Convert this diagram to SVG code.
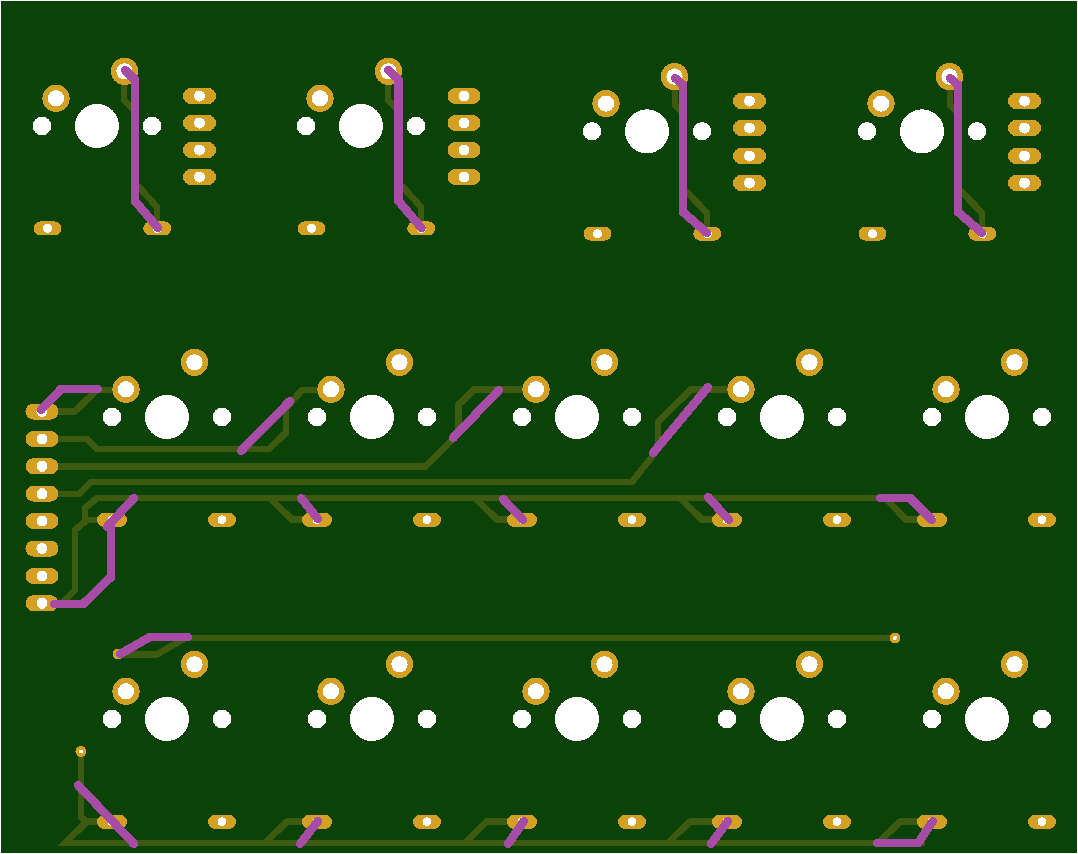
<svg xmlns="http://www.w3.org/2000/svg" width="1078" height="854" viewBox="0 0 1078 854" shape-rendering="crispEdges">
<style>
.t{fill:none;stroke:#3e5a10;stroke-width:6.600;stroke-linejoin:miter;stroke-linecap:butt}
.w{stroke-width:7}
.b{fill:none;stroke:#a64ca6;stroke-width:8.600;stroke-linejoin:miter;stroke-linecap:round}
.g{fill:#d3a023}
.h{fill:#fff}
.ring{fill:#fff;stroke:#d3a023;stroke-width:5.500}
</style>
<defs>
<g id="pad"><rect class="g" x="-14" y="-7" width="28" height="14" rx="7"/><circle class="h" r="4.500"/></g>
<g id="padw"><rect class="g" x="-15" y="-7" width="30" height="14" rx="7"/><circle class="h" r="4.500"/></g>
<g id="pad2"><rect class="g" x="-16.500" y="-8" width="33" height="16" rx="8"/><circle class="h" r="5.500"/></g>
<g id="sw"><circle class="h" r="22"/><circle class="h" cx="-55" r="9.200"/><circle class="h" cx="55" r="9.200"/><circle class="ring" cx="-41" cy="-27.700" r="10.900"/><circle class="ring" cx="27.500" cy="-54.700" r="10.900"/></g>
<g id="swb"><use href="#sw"/><use href="#padw" x="-55" y="102.800"/><use href="#pad" x="55" y="102.800"/></g>
<g id="top"><use href="#sw"/><use href="#pad" x="-49.500" y="102.400"/><use href="#pad" x="60.300" y="102.400"/></g>
<g id="rp1"><use href="#pad2" y="-30"/><use href="#pad2" y="-3"/><use href="#pad2" y="24"/><use href="#pad2" y="51"/></g>
<g id="rp2"><use href="#pad2" y="-30.300"/><use href="#pad2" y="-3.300"/><use href="#pad2" y="24.700"/><use href="#pad2" y="51.700"/></g>
<path id="ttop1" class="t" d="M124 71V100L135 111V187H139L157 207V225"/>
<path id="btop1" class="b" d="M125 70L135 80V201L158 228"/>
<path id="ttop2" class="t" d="M675 77V105L684 113V192H687L707 213V230"/>
<path id="btop2" class="b" d="M675 78L683 85V212L707 233"/>
</defs>
<rect width="1078" height="854" fill="#fff"/>
<rect x="1" y="1" width="1076" height="852" fill="#0a4208"/>
<g id="tracks-back">
<use href="#ttop1"/><use href="#ttop1" x="264"/><use href="#ttop2"/><use href="#ttop2" x="275"/>
<path class="t" d="M42 411.300H75L97 390H126"/>
<path class="t" d="M42 439H87L97 449H269L286 432.700V408L302 390H331"/>
<path class="t w" d="M42 466H426L458 434V405L474 389.500H536"/>
<path class="t" d="M42 494H79L91 482H632L658 449V422L691 389.500H741"/>
<path class="t" d="M880 498H97L85 508V520H112"/>
<path class="t" d="M87 520L75 530V590L62 603H42"/>
<path class="t" d="M270 498L292 519.500H316M475 498L497 519.500H521M680 498L702 519.500H727M885 498L906 519.500H931"/>
<path class="t" d="M894 638H185L157 654.500H118"/>
<path class="t" d="M81 751V817L87 821.700H112M87 821.700L65 843H925"/>
<path class="t" d="M265 843L287 821.700H316M465 843L486 821.700H521M668 843L690 821.700H727M878 843L900 821.700H932"/>
</g>
<g id="footprints">
<g id="sw-top-1"><use href="#top" x="97" y="126"/><use href="#rp1" x="199.500" y="126"/></g>
<g id="sw-top-2"><use href="#top" x="361" y="126"/><use href="#rp1" x="464" y="126"/></g>
<g id="sw-top-3"><use href="#top" x="647" y="131.300"/><use href="#rp2" x="749.500" y="131.300"/></g>
<g id="sw-top-4"><use href="#top" x="922" y="131.300"/><use href="#rp2" x="1024.500" y="131.300"/></g>
<use href="#swb" x="167" y="417"/><use href="#swb" x="372" y="417"/><use href="#swb" x="577" y="417"/><use href="#swb" x="782" y="417"/><use href="#swb" x="987" y="417"/>
<use href="#swb" x="167" y="719"/><use href="#swb" x="372" y="719"/><use href="#swb" x="577" y="719"/><use href="#swb" x="782" y="719"/><use href="#swb" x="987" y="719"/>
<use href="#pad2" x="42" y="411.500"/><use href="#pad2" x="42" y="439"/><use href="#pad2" x="42" y="466.300"/><use href="#pad2" x="42" y="493.700"/><use href="#pad2" x="42" y="521"/><use href="#pad2" x="42" y="548.500"/><use href="#pad2" x="42" y="576"/><use href="#pad2" x="42" y="603.300"/>
<circle class="g" cx="895" cy="638" r="5.500"/><circle class="h" cx="895" cy="638" r="2"/>
<circle class="g" cx="118" cy="654" r="5.500"/>
<circle class="g" cx="81" cy="751.500" r="5.500"/><circle class="h" cx="81" cy="751.500" r="2"/>
</g>
<g id="tracks-front">
<use href="#btop1"/><use href="#btop1" x="263.500"/><use href="#btop2"/><use href="#btop2" x="275"/>
<path class="b" d="M41 410L61 389H98"/>
<path class="b" d="M241 451L290 401"/>
<path class="b" d="M453 438L499 390"/>
<path class="b" d="M653 453L708 387"/>
<path class="b" d="M54 604H83L111 577V527"/>
<path class="b" d="M107 527L134 498"/>
<path class="b" d="M301 498L318 519M503 499L523 520M708 497L729 520"/>
<path class="b" d="M880 498H910L932 520"/>
<path class="b" d="M120 654L150 637H188"/>
<path class="b" d="M78 785L134 844"/>
<path class="b" d="M300 844L318 821M508 844L524 821M711 844L728 821"/>
<path class="b" d="M877 843H918L933 821"/>
</g>
</svg>
